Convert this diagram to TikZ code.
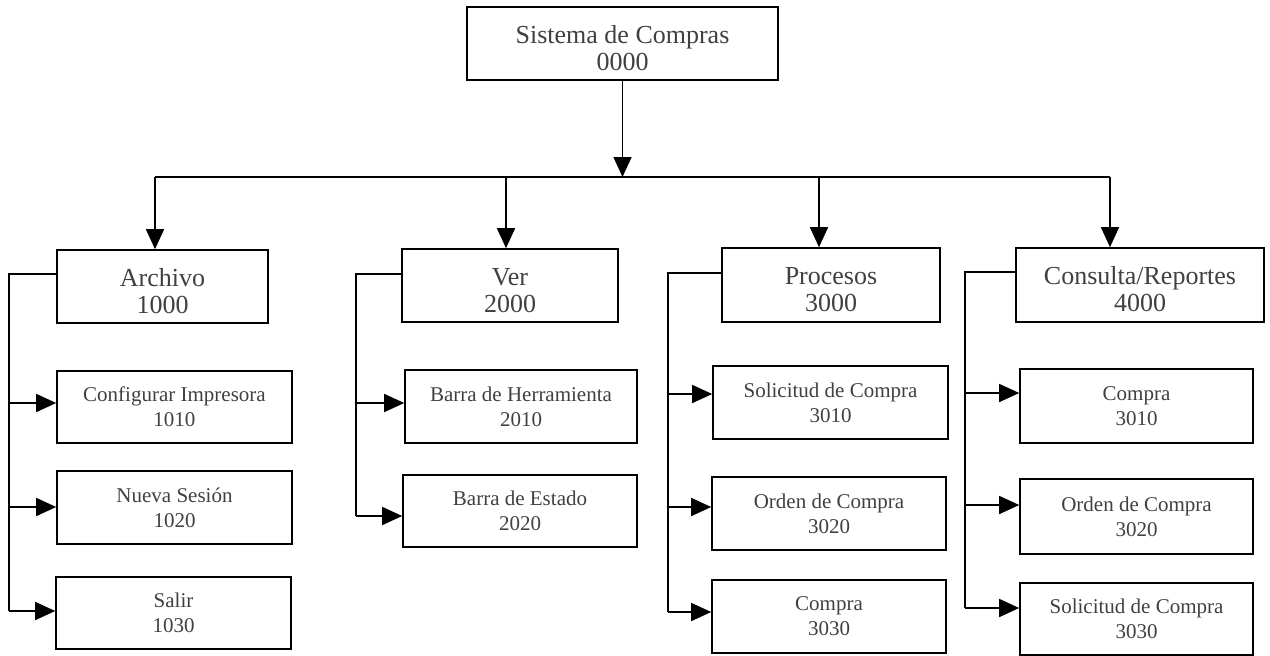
\documentclass[tikz,border=0pt]{standalone}
\usepackage{fontspec}
\setmainfont{Liberation Serif}
\usetikzlibrary{arrows.meta}
\begin{document}
\begin{tikzpicture}[x=1pt,y=-1pt,
  box/.style={draw=black, line width=1.6pt, rectangle, inner sep=0pt, align=center, text=black!75},
  big/.style={box, font=\fontsize{26}{27}\selectfont, text height=53pt, text depth=0pt},
  small/.style={box, font=\fontsize{21}{25}\selectfont},
  conn/.style={line width=1.6pt, draw=black},
  arr/.style={conn, -{Triangle[length=20pt,width=18pt]}},
]
\useasboundingbox (0,0) rectangle (1270,656);

% root
\node[big, minimum width=311pt, minimum height=73pt] (top) at (622.5,43.5) {Sistema de Compras\\0000};

% level 1
\node[big, minimum width=211pt, minimum height=73pt] (A) at (162.5,286.5) {Archivo\\1000};
\node[big, minimum width=216pt, minimum height=73pt] (V) at (510,285.5) {Ver\\2000};
\node[big, minimum width=218pt, minimum height=74pt] (P) at (831,285) {Procesos\\3000};
\node[big, minimum width=248pt, minimum height=74pt] (C) at (1140,285) {Consulta/Reportes\\4000};

% level 2
\node[small, minimum width=235pt, minimum height=72pt] (A1) at (174.5,407) {Configurar Impresora\\1010};
\node[small, minimum width=235pt, minimum height=73pt] (A2) at (174.5,507.5) {Nueva Sesión\\1020};
\node[small, minimum width=235pt, minimum height=72pt] (A3) at (173.5,613) {Salir\\1030};

\node[small, minimum width=232pt, minimum height=73pt] (V1) at (521,406.5) {Barra de Herramienta\\2010};
\node[small, minimum width=234pt, minimum height=72pt] (V2) at (520,511) {Barra de Estado\\2020};

\node[small, minimum width=235pt, minimum height=73pt] (P1) at (830.5,402.5) {Solicitud de Compra\\3010};
\node[small, minimum width=234pt, minimum height=73pt] (P2) at (829,513.5) {Orden de Compra\\3020};
\node[small, minimum width=234pt, minimum height=73pt] (P3) at (829,616.5) {Compra\\3030};

\node[small, minimum width=233pt, minimum height=74pt] (C1) at (1136.5,406) {Compra\\3010};
\node[small, minimum width=233pt, minimum height=75pt] (C2) at (1136.5,516.5) {Orden de Compra\\3020};
\node[small, minimum width=233pt, minimum height=72pt] (C3) at (1136.5,619) {Solicitud de Compra\\3030};

% root to bus
\coordinate (bus) at (622.5,177);
\draw[arr] (top.south) -- (bus);
\coordinate (bA) at (155,177);
\coordinate (bV) at (506,177);
\coordinate (bP) at (819,177);
\coordinate (bC) at (1110,177);
\draw[conn] (bA) -- (bC);
\draw[arr] (bA) -- (bA |- A.north);
\draw[arr] (bV) -- (bV |- V.north);
\draw[arr] (bP) -- (bP |- P.north);
\draw[arr] (bC) -- (bC |- C.north);

% Archivo spine
\coordinate (sA) at (9,274);
\coordinate (eA) at (9,611);
\draw[conn] (sA -| A.west) -- (sA) -- (eA);
\coordinate (a1) at (9,403);
\coordinate (a2) at (9,507);
\draw[arr] (a1) -- (a1 -| A1.west);
\draw[arr] (a2) -- (a2 -| A2.west);
\draw[arr] (eA) -- (eA -| A3.west);

% Ver spine
\coordinate (sV) at (356,274);
\coordinate (eV) at (356,516);
\draw[conn] (sV -| V.west) -- (sV) -- (eV);
\coordinate (v1) at (356,403);
\draw[arr] (v1) -- (v1 -| V1.west);
\draw[arr] (eV) -- (eV -| V2.west);

% Procesos spine
\coordinate (sP) at (668,273);
\coordinate (eP) at (668,612);
\draw[conn] (sP -| P.west) -- (sP) -- (eP);
\coordinate (p1) at (668,394);
\coordinate (p2) at (668,507);
\draw[arr] (p1) -- (p1 -| P1.west);
\draw[arr] (p2) -- (p2 -| P2.west);
\draw[arr] (eP) -- (eP -| P3.west);

% Consulta spine
\coordinate (sC) at (965,272);
\coordinate (eC) at (965,608);
\draw[conn] (sC -| C.west) -- (sC) -- (eC);
\coordinate (c1) at (965,393);
\coordinate (c2) at (965,505);
\draw[arr] (c1) -- (c1 -| C1.west);
\draw[arr] (c2) -- (c2 -| C2.west);
\draw[arr] (eC) -- (eC -| C3.west);
\end{tikzpicture}
\end{document}
